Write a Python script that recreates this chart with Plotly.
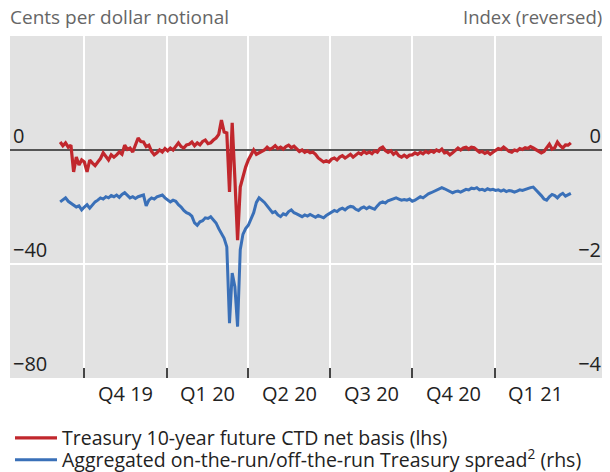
import pandas as pd
import plotly.graph_objects as go

# observations every 3 days, 4 Sep 2019 to 27 Mar 2021
dates = pd.date_range("2019-09-04", periods=191, freq="3D")

# Treasury 10-year future CTD net basis, cents per dollar notional (lhs)
ctd_basis = [
    2.8, 1.5, 2.5, 1.0, 1.7, -7.7, -2.5, -5.3, -3.5, -4.2,
    -7.7, -3.5, -4.6, -5.5, -4.2, -3.0, -1.0, -2.5, -3.5, -1.7,
    -2.5, -1.7, -0.7, -1.5, 1.7, 0.2, 0.7, -0.7, 1.5, 4.2,
    3.0, 2.8, 1.2, 1.7, -0.5, -1.7, -1.0, 0.0, -0.7, 0.5,
    -0.3, 0.7, 0.0, 1.5, 2.5, 1.2, 0.7, 1.8, 2.0, 2.8,
    1.5, 2.5, 1.8, 3.0, 3.5, 2.2, 2.5, 3.5, 4.2, 5.5,
    10.5, 6.3, 6.0, -14.7, 9.5, -10.0, -31.6, -13.0, -9.0, -6.0,
    -3.5, -2.0, 0.0, -1.5, -1.0, -0.3, 0.0, 1.0, 0.2, 0.7,
    1.5, 0.5, 1.0, 0.3, 1.2, 1.7, 0.8, 1.3, 0.5, -0.5,
    0.0, -0.8, -0.3, -1.0, -0.7, -1.5, -2.8, -3.5, -4.2, -3.8,
    -4.2, -3.2, -2.8, -3.5, -2.5, -2.0, -2.8, -2.2, -1.5, -2.5,
    -1.7, -1.0, -1.5, -0.5, -1.2, -0.7, -1.3, -0.3, -0.8, 0.5,
    1.0, -0.2, -0.8, -0.3, -1.5, -0.8, -2.0, -2.5, -1.8, -2.5,
    -1.8, -1.7, -1.0, -1.5, -0.8, -1.3, -0.5, -1.0, -0.3, -0.8,
    0.0, -0.5, 0.3, -1.0, -0.8, -1.7, -1.0, -0.2, 0.7, 0.0,
    0.7, 1.0, 0.3, 1.0, 0.8, 0.0, -0.8, -0.5, -1.2, -0.7,
    -1.5, -0.8, -0.3, 0.5, 0.2, 1.0, 0.3, -0.5, -0.8, 0.0,
    -0.3, 0.5, 0.2, 0.8, 0.5, 1.2, 0.7, 0.2, -0.5, -1.0,
    -0.5, 1.0, 2.0, 0.3, 0.8, 2.8, 1.5, 0.7, 1.8, 1.7,
    2.5,
]

# Aggregated on-the-run/off-the-run Treasury spread, index reversed (rhs)
otr_spread = [
    -0.91, -0.88, -0.84, -0.90, -0.93, -0.97, -1.00, -0.98, -1.05, -1.00,
    -0.96, -1.02, -0.97, -0.91, -0.88, -0.84, -0.86, -0.82, -0.84, -0.80,
    -0.82, -0.79, -0.83, -0.78, -0.75, -0.80, -0.84, -0.82, -0.85, -0.82,
    -0.80, -0.79, -0.98, -0.88, -0.84, -0.86, -0.82, -0.80, -0.79, -0.84,
    -0.88, -0.91, -0.88, -0.90, -0.96, -1.00, -1.06, -1.10, -1.12, -1.16,
    -1.28, -1.32, -1.26, -1.24, -1.19, -1.20, -1.17, -1.22, -1.28, -1.38,
    -1.46, -1.55, -1.70, -3.04, -2.16, -2.40, -3.10, -1.75, -1.48, -1.38,
    -1.32, -1.22, -1.10, -0.92, -0.84, -0.88, -0.92, -0.98, -1.05, -1.10,
    -1.08, -1.14, -1.17, -1.12, -1.14, -1.08, -1.05, -1.10, -1.12, -1.15,
    -1.17, -1.14, -1.16, -1.13, -1.15, -1.18, -1.15, -1.17, -1.19, -1.15,
    -1.12, -1.09, -1.06, -1.08, -1.04, -1.02, -1.05, -1.01, -0.99, -1.00,
    -1.04, -1.06, -1.02, -1.00, -1.03, -1.00, -1.02, -1.04, -0.98, -0.93,
    -0.91, -0.93, -0.89, -0.87, -0.85, -0.84, -0.86, -0.88, -0.87, -0.88,
    -0.86, -0.90, -0.88, -0.85, -0.82, -0.84, -0.80, -0.77, -0.75, -0.73,
    -0.70, -0.68, -0.66, -0.68, -0.70, -0.72, -0.75, -0.73, -0.72, -0.74,
    -0.71, -0.69, -0.70, -0.67, -0.68, -0.66, -0.70, -0.69, -0.71, -0.68,
    -0.70, -0.69, -0.71, -0.70, -0.72, -0.70, -0.73, -0.71, -0.72, -0.74,
    -0.72, -0.70, -0.71, -0.69, -0.68, -0.66, -0.65, -0.70, -0.74, -0.80,
    -0.86, -0.88, -0.82, -0.78, -0.80, -0.84, -0.79, -0.76, -0.81, -0.78,
    -0.76,
]

quarter_starts = ["2019-10-01", "2020-01-01", "2020-04-01", "2020-07-01",
                  "2020-10-01", "2021-01-01", "2021-04-01"]
quarter_labels = ["Q4 19", "Q1 20", "Q2 20", "Q3 20", "Q4 20", "Q1 21"]

RED = "#c1272d"
BLUE = "#3a70b8"
FONT = "Open Sans"
TICK_FS = 20
LEG_FS = 19.5

fig = go.Figure()
fig.add_trace(go.Scatter(
    x=dates, y=otr_spread, yaxis="y2", mode="lines",
    line=dict(color=BLUE, width=3),
    name="Aggregated on-the-run/off-the-run Treasury spread<sup>2</sup> (rhs)",
    legend="legend2",
))
fig.add_trace(go.Scatter(
    x=dates, y=ctd_basis, mode="lines",
    line=dict(color=RED, width=3.2),
    name="Treasury 10-year future CTD net basis (lhs)",
    legend="legend",
))

# quarter labels sit in the middle of each quarter
qs = pd.to_datetime(quarter_starts)
for lab, a, b in zip(quarter_labels, qs[:-1], qs[1:]):
    fig.add_annotation(x=a + (b - a) / 2, y=-0.044, xref="x", yref="paper",
                       text=lab, showarrow=False, yanchor="middle",
                       font=dict(size=TICK_FS, color="#222222"))

fig.add_annotation(x=-0.003, y=1.056, xref="paper", yref="paper", text="Cents per dollar notional",
                   showarrow=False, xanchor="left", yanchor="middle",
                   font=dict(size=19, color="#666666"))
fig.add_annotation(x=1.0, y=1.056, xref="paper", yref="paper", text="Index (reversed)",
                   showarrow=False, xanchor="right", yanchor="middle",
                   font=dict(size=18.5, color="#666666"))

leg = dict(x=0.0, xanchor="left", yanchor="top", orientation="v",
           bgcolor="rgba(0,0,0,0)", font=dict(size=LEG_FS, color="#222222"),
           itemwidth=42)

# the page body has an 8px margin, so the figure starts 8px in; it is made
# taller than the window so the legends never squeeze the plot area
fig.update_layout(
    width=602, height=500,
    margin=dict(l=2, r=6, t=28, b=130),
    paper_bgcolor="white", plot_bgcolor="#e2e2e2",
    font=dict(family=FONT, size=TICK_FS, color="#222222"),
    showlegend=True,
    legend=dict(leg, y=-0.119),
    legend2=dict(leg, y=-0.183),
    xaxis=dict(
        type="date", range=["2019-07-10", "2021-05-03"],
        tickvals=quarter_starts[:-1], showticklabels=False,
        ticks="inside", ticklen=10, tickwidth=1.5, tickcolor="#444444",
        showgrid=True, gridcolor="white", gridwidth=2,
        showline=False, zeroline=False,
    ),
    yaxis=dict(
        range=[-80, 40], tickvals=[-80, -40, 0],
        ticklabelposition="inside top", ticks="",
        showgrid=True, gridcolor="white", gridwidth=2,
        zeroline=True, zerolinecolor="#555555", zerolinewidth=1.5,
        tickfont=dict(size=TICK_FS, color="#222222"),
    ),
    yaxis2=dict(
        range=[-4, 2], tickvals=[-4, -2, 0], overlaying="y", side="right",
        ticklabelposition="inside top", ticks="",
        showgrid=False, zeroline=False,
        tickfont=dict(size=TICK_FS, color="#222222"),
    ),
)

fig.write_html("out.html")
